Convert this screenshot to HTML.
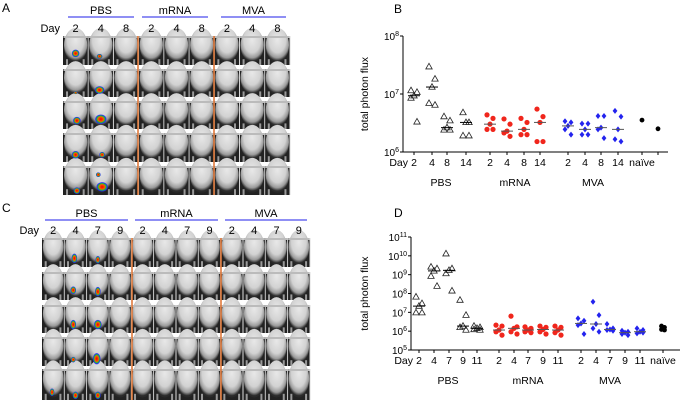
<!DOCTYPE html>
<html><head><meta charset="utf-8"><style>
body{margin:0;background:#fff;}
svg{display:block;font-family:"Liberation Sans",Arial,sans-serif;}
</style></head><body>
<svg id="fig" width="683" height="400" viewBox="0 0 683 400">
<defs>
<radialGradient id="mouse" cx="50%" cy="35%" r="60%">
<stop offset="0%" stop-color="#e8e8e8"/><stop offset="60%" stop-color="#d2d2d2"/><stop offset="85%" stop-color="#9a9a9a"/><stop offset="100%" stop-color="#2a2a2a"/>
</radialGradient>
<radialGradient id="blob"><stop offset="0%" stop-color="#e00"/><stop offset="45%" stop-color="#f50"/><stop offset="65%" stop-color="#2c2"/><stop offset="85%" stop-color="#22f"/><stop offset="100%" stop-color="#22f" stop-opacity="0"/></radialGradient>
</defs>
<g id="panelA"></g>
<g id="panelC"></g>
<g id="chartB"></g>
<g id="chartD"></g>
</svg>
<script>
// ---- Chart B data (log10 photon flux) ----
const bCats = ["2","4","8","14","2","4","8","14","2","4","8","14","naïve",""];
const bGroups = ["PBS","mRNA","MVA"];
const bPBS = [[7.06,7.03,6.97,6.93,6.52],[7.47,7.26,7.12,6.84,6.81],[6.61,6.54,6.42,6.38,6.38],[6.68,6.51,6.51,6.28,6.28]];
const bMRNA = [[6.64,6.58,6.48,6.39,6.39],[6.57,6.48,6.36,6.33,6.27],[6.58,6.51,6.39,6.30,6.30],[6.74,6.61,6.51,6.18,6.18]];
const bMVA = [[6.53,6.51,6.45,6.39,6.30],[6.49,6.49,6.39,6.30,6.30],[6.62,6.62,6.42,6.39,6.24],[6.71,6.61,6.39,6.22,6.18]];
const bNaive = [6.55,6.40];
const bTicks = [6,7,8];
// ---- Chart D data (log10 photon flux) ----
const dCats = ["2","4","7","9","11","2","4","7","9","11","2","4","7","9","11","naïve"];
const dPBS = [[7.82,7.47,7.33,6.98,6.98],[9.41,9.32,9.20,8.92,8.39],[10.11,9.32,9.23,9.06,8.14],[7.65,6.85,6.27,6.20,6.06],[6.27,6.20,6.15,6.09,6.06]];
const dMRNA = [[6.32,6.27,6.06,5.97,5.79],[6.80,6.23,6.15,5.97,5.85],[6.23,6.15,6.06,5.97,5.92],[6.27,6.20,6.09,5.97,5.85],[6.27,6.20,6.06,5.92,5.79]];
const dMVA = [[6.68,6.55,6.41,6.32,5.85],[7.56,6.85,6.38,6.15,5.97],[6.38,6.15,6.09,6.06,6.02],[6.02,5.97,5.92,5.85,5.79],[6.15,6.06,5.97,5.88,5.92]];
const dNaive = [6.27,6.20,6.15,6.09,6.06];
const dTicks = [5,6,7,8,9,10,11];

const NS="http://www.w3.org/2000/svg";
function mk(parent,tag,attrs,text){const e=document.createElementNS(NS,tag);for(const k in attrs)e.setAttribute(k,attrs[k]);if(text!==undefined)e.textContent=text;parent.appendChild(e);return e;}
function median(a){const s=[...a].sort((x,y)=>x-y);return s[Math.floor(s.length/2)];}

function marker(g,kind,x,y){
  let e;
  if(kind==="tri"){e=mk(g,"path",{d:`M${x} ${y-3.4}L${x+3.2} ${y+2.2}L${x-3.2} ${y+2.2}Z`,fill:"none",stroke:"#222","stroke-width":0.8});}
  else if(kind==="red"){e=mk(g,"circle",{cx:x,cy:y,r:2.6,fill:"#f0261c"});}
  else if(kind==="blue"){e=mk(g,"path",{d:`M${x} ${y-3}L${x+2.4} ${y}L${x} ${y+3}L${x-2.4} ${y}Z`,fill:"#2323ee"});}
  else {e=mk(g,"circle",{cx:x,cy:y,r:2.4,fill:"#000"});}
  
  
}
const OFFS=[-3,3,0,-3,3];
function spread(n,i){return n===1?0:OFFS[i%5];}

function drawChart(g,cfg){
  const {x0,x1,yTop,yBot,tMin,tMax,ticks,catX,cats,series,groupX,groupY,label,labelXY,titleX}=cfg;
  const yS=v=>yBot-(v-tMin)/(tMax-tMin)*(yBot-yTop);
  const ax=mk(g,"path",{d:`M${x0} ${yTop}V${yBot}H${x1}`,fill:"none",stroke:"#000","stroke-width":1});
  
  ticks.forEach(t=>{
    const y=yS(t);
    mk(g,"line",{x1:x0-3,x2:x0,y1:y,y2:y,stroke:"#000","stroke-width":1});
    const tx=mk(g,"text",{x:x0-4,y:y+4,"text-anchor":"end","font-size":10});
    
    tx.appendChild(document.createTextNode("10"));
    mk(tx,"tspan",{dy:-4,"font-size":7},String(t));
  });
  catX.forEach((x,i)=>{
    mk(g,"line",{x1:x,x2:x,y1:yBot,y2:yBot+3,stroke:"#000","stroke-width":1});
    if(cats[i]){const t=mk(g,"text",{x:x,y:yBot+14,"text-anchor":"middle","font-size":10.5},cats[i]);
    }
  });
  const day=mk(g,"text",{x:catX[0]-6,y:yBot+14,"text-anchor":"end","font-size":10.5},"Day");
  
  ["PBS","mRNA","MVA"].forEach((n,i)=>{const t=mk(g,"text",{x:groupX[i],y:groupY,"text-anchor":"middle","font-size":10.5},n);
    });
  series.forEach(s=>{
    s.vals.forEach((arr,j)=>{
      const cx=catX[s.start+j];
      arr.forEach((v,k)=>marker(g,s.kind,cx+spread(arr.length,k)*(s.kind==="naive"?0.5:1),yS(v)));
      if(s.kind!=="naive"){const m=yS(median(arr));
        const ln=mk(g,"line",{x1:cx-6,x2:cx+6,y1:m,y2:m,stroke:s.kind==="tri"?"#000":"#555","stroke-width":1});
        }
    });
  });
  const tt=mk(g,"text",{x:titleX,y:(yTop+yBot)/2,"text-anchor":"middle","font-size":10.5,transform:`rotate(-90 ${titleX} ${(yTop+yBot)/2})`},"total photon flux");
  
  const pl=mk(g,"text",{x:labelXY[0],y:labelXY[1],"font-size":12},label);
  
}

drawChart(document.getElementById("chartB"),{x0:403,x1:668,yTop:36,yBot:152,tMin:6,tMax:8,ticks:bTicks,
  catX:[414,432,447,466,490,507,524,540,568,585,601,618,642,658],cats:bCats,
  series:[{kind:"tri",start:0,vals:bPBS},{kind:"red",start:4,vals:bMRNA},{kind:"blue",start:8,vals:bMVA},{kind:"naive",start:12,vals:bNaive.map(v=>[v])}],
  groupX:[441,515,593],groupY:186,label:"B",labelXY:[394,13],titleX:368});
drawChart(document.getElementById("chartD"),{x0:411,x1:680,yTop:237,yBot:350,tMin:5,tMax:11,ticks:dTicks,
  catX:[419,434,449,463,477,499,514,528,543,558,581,596,610,625,640,663],cats:dCats,
  series:[{kind:"tri",start:0,vals:dPBS},{kind:"red",start:5,vals:dMRNA},{kind:"blue",start:10,vals:dMVA},{kind:"naive",start:15,vals:[dNaive]}],
  groupX:[448,528,610],groupY:384,label:"D",labelXY:[394,217],titleX:368});

// ---- imaging panels ----
function drawImages(g,cfg){
  const {x0,x1,rows,nCol,orange,blobs,headers,days,dayY,label}=cfg;
  const cw=(x1-x0)/nCol;
  rows.forEach(([y0,y1],r)=>{
    const rb=mk(g,"rect",{x:x0,y:y0,width:x1-x0,height:y1-y0,fill:"#1a1a1a"});
    
    for(let c=0;c<nCol;c++){
      const cx=x0+c*cw;
      mk(g,"rect",{x:cx+0.5,y:y0,width:cw-1,height:y1-y0,fill:"#222"});
      const m=mk(g,"ellipse",{cx:cx+cw/2,cy:y0+(y1-y0)*0.32,rx:cw*0.46,ry:(y1-y0)*0.6,fill:"url(#mouse)"});
      
      mk(g,"rect",{x:cx+0.5,y:y0,width:cw-1,height:2,fill:"#bbb"});
      mk(g,"rect",{x:cx+cw*0.12,y:y1-(y1-y0)*0.2,width:2,height:(y1-y0)*0.2,fill:"#9a9a9a"});
      mk(g,"rect",{x:cx+cw*0.78,y:y1-(y1-y0)*0.2,width:2,height:(y1-y0)*0.2,fill:"#9a9a9a"});
      mk(g,"line",{x1:cx+cw,x2:cx+cw,y1:y0,y2:y1,stroke:"#ddd","stroke-width":1});
    }
  });
  blobs.forEach(([r,c,fx,fy,rx,ry])=>{
    const [y0,y1]=rows[r];const cx=x0+c*cw+fx*cw;const cy=y0+fy*(y1-y0);
    const b=mk(g,"ellipse",{cx,cy,rx,ry,fill:"url(#blob)"});
    
  });
  orange.forEach(x=>{const o=mk(g,"line",{x1:x,x2:x,y1:rows[0][0],y2:rows[rows.length-1][1],stroke:"#e07a3c","stroke-width":1.6});
    });
  headers.forEach(([n,a,b,y])=>{
    const l=mk(g,"line",{x1:a,x2:b,y1:y,y2:y,stroke:"#6a6af0","stroke-width":1.5});
    
    const t=mk(g,"text",{x:(a+b)/2,y:y-3,"text-anchor":"middle","font-size":11},n);
    
  });
  const d=mk(g,"text",{x:x0-3,y:dayY,"text-anchor":"end","font-size":11},"Day");
  
  days.forEach((t,i)=>{const e=mk(g,"text",{x:x0+(i+0.5)*cw,y:dayY,"text-anchor":"middle","font-size":11},t);
    });
  const pl=mk(g,"text",{x:label[1],y:label[2],"font-size":12},label[0]);
  
}
drawImages(document.getElementById("panelA"),{x0:63,x1:290,nCol:9,
  rows:[[36,65],[69,97],[101,129],[133,162],[166,195]],orange:[138,214],
  blobs:[[0,0,0.5,0.6,4,4],[0,1,0.45,0.7,3,2.5],[1,0,0.5,0.85,2,1.5],[1,1,0.45,0.75,5,4],[2,0,0.55,0.7,4,4],[2,1,0.5,0.65,6,5],[3,0,0.5,0.75,4,4],[3,1,0.55,0.75,3,3],[4,0,0.55,0.85,3.5,3.5],[4,1,0.4,0.3,2.5,2.5],[4,1,0.55,0.72,6,5]],
  headers:[["PBS",68,134,17],["mRNA",142,208,17],["MVA",221,286,17]],
  days:["2","4","8","2","4","8","2","4","8"],dayY:32,label:["A",2,12]});
drawImages(document.getElementById("panelC"),{x0:42,x1:310,nCol:12,
  rows:[[238,267],[272,300],[305,333],[337,366],[369,400]],orange:[132,221],
  blobs:[[0,1,0.45,0.7,3,5],[0,2,0.5,0.75,2.5,4],[1,1,0.4,0.65,3,4],[1,2,0.5,0.7,3,5],[2,1,0.4,0.7,3,5],[2,2,0.5,0.7,4,5],[3,1,0.4,0.78,2.5,3],[3,2,0.45,0.75,4,6],[4,0,0.45,0.75,2.5,4],[4,1,0.5,0.85,3,4],[4,2,0.5,0.85,3,4]],
  headers:[["PBS",45,128,220],["mRNA",135,218,220],["MVA",225,307,220]],
  days:["2","4","7","9","2","4","7","9","2","4","7","9"],dayY:234,label:["C",2,212]});
</script>
</body></html>
